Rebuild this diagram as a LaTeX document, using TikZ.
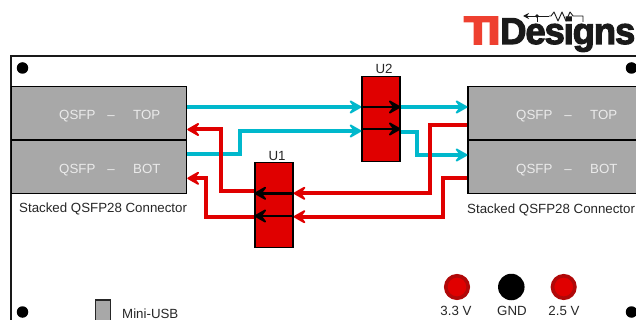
\documentclass[tikz,border=0pt]{standalone}
\usepackage{fontspec}
\setmainfont{Liberation Sans}
\newfontfamily\logofont[FakeBold=3,LetterSpace=-3]{Liberation Sans Bold}
\newfontfamily\tifont[FakeBold=4.5,LetterSpace=-9]{Liberation Sans Bold}
\usetikzlibrary{arrows.meta}
\definecolor{tired}{HTML}{E00000}
\definecolor{ledring}{HTML}{B00808}
\definecolor{ticyan}{HTML}{00B8CC}
\definecolor{conn}{HTML}{A8A8A8}
\definecolor{logored}{HTML}{EE4030}
\definecolor{logoblk}{HTML}{1A1A1A}
\tikzset{
  x=1pt,y=-1pt,
  qsfp/.style={draw=black,line width=1.2pt,fill=conn,minimum height=53.5pt,inner sep=0pt},
  qtext/.style={anchor=base west,inner sep=0pt,text=white!92!black,font=\fontsize{13.3}{15}\selectfont},
  chip/.style={draw=black,line width=1.2pt,fill=tired,inner sep=0pt},
  tip/.style={-{Stealth[length=15pt,width=17pt,inset=6.5pt,round,line width=1.8pt]}},
  cyanw/.style={tip,draw=ticyan,line width=4pt},
  redw/.style={tip,draw=tired,line width=4pt},
  blackw/.style={tip,draw=black,line width=2.8pt},
  lbl/.style={inner sep=0pt,font=\fontsize{13.3}{15}\selectfont,text=black!85},
  mhole/.style={circle,fill=black,minimum size=11.5pt,inner sep=0pt},
  led/.style={circle,draw=ledring,line width=3.6pt,fill=tired,minimum size=22.5pt,inner sep=0pt},
  gndled/.style={circle,fill=black,minimum size=26.5pt,inner sep=0pt},
}
\begin{document}
\begin{tikzpicture}
\useasboundingbox (0,0) rectangle (636,320);
\clip (0,0) rectangle (636,320);
% board
\draw[line width=1.4pt,black!90] (11,325) -- (11,56) -- (640,56);
% mounting holes
\node[mhole] (h1) at (22.5,68) {};
\node[mhole] (h2) at (22.5,312) {};
\node[mhole] (h3) at (631.5,68) {};
\node[mhole] (h4) at (631.5,312) {};
% connectors
\node[qsfp,minimum width=175.5pt] (lt) at (99,113.6) {};
\node[qsfp,minimum width=175.5pt] (lb) at (99,166.8) {};
\node[qsfp,minimum width=180pt] (rt) at (558,113.6) {};
\node[qsfp,minimum width=180pt] (rb) at (558,166.8) {};
\foreach \n/\t/\y/\xa in {a/TOP/120/59,b/BOT/174/59,c/TOP/120/516,d/BOT/174/516}{
  \node[qtext] (q\n) at (\xa,\y) {QSFP};
  \node[qtext,anchor=base] (s\n) at (\xa+52,\y) {–};
  \node[qtext] (t\n) at (\xa+74,\y) {\t};
}
\node[lbl,anchor=base west] (capl) at (19,212) {Stacked QSFP28 Connector};
\node[lbl,anchor=base west] (capr) at (467,213) {Stacked QSFP28 Connector};
% chips
\node[chip,minimum width=38pt,minimum height=84.5pt] (u1) at (274,205) {};
\node[chip,minimum width=38pt,minimum height=84.5pt] (u2) at (381,119) {};
\node[lbl,anchor=base] (u1l) at (277,161) {U1};
\node[lbl,anchor=base] (u2l) at (384,74) {U2};
% cyan lines
\draw[cyanw] (lt.east |- 0,107) -- (u2.west |- 0,107);
\draw[cyanw] (lb.east |- 0,153.7) -- (240,153.7) -- (240,131) -- (u2.west |- 0,131);
\draw[cyanw] (u2.east |- 0,107) -- (rt.west |- 0,107);
\draw[cyanw] (u2.east |- 0,132.3) -- (417,132.3) -- (417,155) -- (rb.west |- 0,155);
% red lines
\draw[redw] (rt.west |- 0,125) -- (430,125) -- (430,193.3) -- (u1.east |- 0,193.3);
\draw[redw] (rb.west |- 0,178.3) -- (443,178.3) -- (443,216.7) -- (u1.east |- 0,216.7);
\draw[redw] (u1.west |- 0,190.7) -- (220.7,190.7) -- (220.7,129.5) -- (lt.east |- 0,129.5);
\draw[redw] (u1.west |- 0,216.7) -- (205.7,216.7) -- (205.7,178.3) -- (lb.east |- 0,178.3);
% through-chip arrows
\draw[blackw] (u2.west |- 0,107) -- (u2.east |- 0,107);
\draw[blackw] (u2.west |- 0,129) -- (u2.east |- 0,129);
\draw[blackw] (u1.east |- 0,193.3) -- (u1.west |- 0,193.3);
\draw[blackw] (u1.east |- 0,216) -- (u1.west |- 0,216);
% LEDs
\node[led] (l33) at (457,287) {};
\node[gndled] (lg) at (511.3,287) {};
\node[led] (l25) at (563.7,287) {};
\node[lbl,anchor=base] at (456,315) {3.3 V};
\node[lbl,anchor=base] at (512,315) {GND};
\node[lbl,anchor=base] at (564,315) {2.5 V};
% mini usb
\node[draw=black!85,line width=1.2pt,fill=conn,minimum width=15pt,minimum height=32pt,inner sep=0pt] (usb) at (102.8,316) {};
\node[lbl,anchor=base west] (usbl) at (122,318.5) {Mini-USB};
% logo
\node[anchor=base west,inner sep=0pt,text=logored] (ti) at (464,44)
  {\resizebox{36pt}{27pt}{\tifont TI}};
\node[anchor=base west,inner sep=0pt,text=logoblk] (des) at (500,44)
  {\resizebox{135pt}{27pt}{\logofont Designs}};
\draw[logoblk,line width=0.9pt,-{Stealth[length=6pt,width=6pt]}] (549,16) -- (523,16);
\draw[logoblk,line width=0.9pt,line join=round] (583,22) -- (583,16) -- (573,16)
  -- (570,12) -- (566,21) -- (562,12) -- (558,21) -- (554,12) -- (551,16) -- (549,16);
\fill[logoblk] (537,16) circle (1.8pt);
\draw[logoblk,line width=0.9pt] (537,16) -- (537,22);
\end{tikzpicture}
\end{document}
